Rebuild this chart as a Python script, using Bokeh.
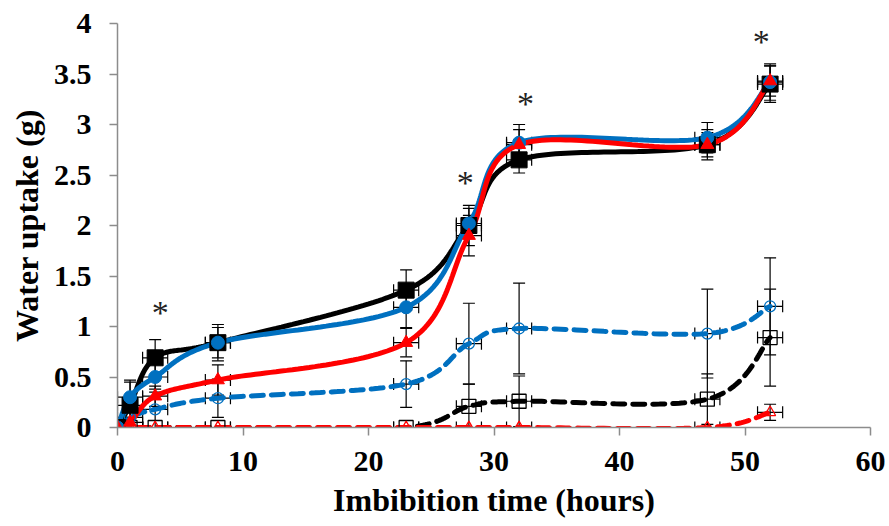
import numpy as np
from bokeh.plotting import figure
from bokeh.models import ColumnDataSource, Whisker, TeeHead, Range1d, FixedTicker
from bokeh.core.properties import value
from bokeh.embed import file_html
from bokeh.resources import INLINE

# Imbibition time (hours) and water uptake (g) for each treatment
hours = [0, 1, 3, 8, 23, 28, 32, 47, 52]
hours_err = [1, 1, 1, 1, 1, 1, 1, 1, 1]

black_solid = [0.0, 0.22, 0.69, 0.84, 1.36, 2.00, 2.65, 2.80, 3.40]
black_solid_err = [0.02, 0.25, 0.18, 0.18, 0.20, 0.20, 0.13, 0.15, 0.18]
blue_solid = [0.0, 0.30, 0.50, 0.84, 1.19, 2.02, 2.82, 2.87, 3.42]
blue_solid_err = [0.02, 0.15, 0.15, 0.15, 0.20, 0.15, 0.18, 0.15, 0.18]
red_solid = [0.0, 0.05, 0.31, 0.47, 0.84, 1.90, 2.80, 2.80, 3.43]
red_solid_err = [0.02, 0.05, 0.10, 0.15, 0.14, 0.20, 0.15, 0.12, 0.15]

blue_dashed = [0.0, 0.10, 0.18, 0.29, 0.43, 0.83, 0.98, 0.93, 1.20]
blue_dashed_err = [0.02, 0.20, 0.20, 0.19, 0.23, 0.40, 0.45, 0.44, 0.48]
black_dashed = [0.0, 0.0, 0.0, 0.0, 0.0, 0.21, 0.26, 0.28, 0.89]
black_dashed_err = [0.0, 0.0, 0.0, 0.0, 0.0, 0.22, 0.25, 0.25, 0.48]
red_dashed = [0.0, 0.0, 0.0, 0.0, 0.0, 0.0, 0.0, 0.0, 0.15]
red_dashed_err = [0.0, 0.0, 0.0, 0.0, 0.0, 0.0, 0.0, 0.0, 0.08]

# significance marks (x, y)
star_x = [3.4, 27.7, 32.5, 51.3]
star_y = [1.14, 2.43, 3.21, 3.82]

x_ticks = [0, 10, 20, 30, 40, 50, 60]
y_ticks = [0, 0.5, 1, 1.5, 2, 2.5, 3, 3.5, 4]
y_tick_labels = ["0", "0.5", "1", "1.5", "2", "2.5", "3", "3.5", "4"]

BLUE = "#0070C0"
RED = "#FF0000"
BLACK = "#000000"
AXIS = "#8C8C8C"
FONT = "Liberation Serif"


def smooth(xs, ys, n=40):
    """Cubic Bezier curve through the points (Catmull-Rom control points)."""
    P = np.column_stack([xs, ys]).astype(float)
    out = [P[0]]
    t = np.linspace(0, 1, n)[1:, None]
    for i in range(len(P) - 1):
        p0 = P[i - 1] if i > 0 else P[i]
        p1 = P[i]
        p2 = P[i + 1]
        p3 = P[i + 2] if i + 2 < len(P) else P[i + 1]
        c1 = p1 + (p2 - p0) / 6.0
        c2 = p2 - (p3 - p1) / 6.0
        seg = ((1 - t) ** 3) * p1 + 3 * ((1 - t) ** 2) * t * c1 + 3 * (1 - t) * t * t * c2 + (t ** 3) * p2
        out.extend(seg)
    out = np.array(out)
    return out[:, 0], out[:, 1]


p = figure(width=889, height=526, output_backend="svg", toolbar_location=None,
           x_range=Range1d(0, 60), y_range=Range1d(0, 4),
           min_border_left=117, min_border_right=19, min_border_top=23, min_border_bottom=99)
p.outline_line_color = None
p.xgrid.visible = False
p.ygrid.visible = False
p.background_fill_color = "white"

series = [
    # values, errors, color, dashed, marker, filled
    (black_dashed, black_dashed_err, BLACK, True, "square", False),
    (blue_dashed, blue_dashed_err, BLUE, True, "circle", False),
    (red_dashed, red_dashed_err, RED, True, "triangle", False),
    (black_solid, black_solid_err, BLACK, False, "square", True),
    (blue_solid, blue_solid_err, BLUE, False, "circle", True),
    (red_solid, red_solid_err, RED, False, "triangle", True),
]

for vals, errs, color, dashed, marker, filled in series:
    sx, sy = smooth(hours, vals)
    if dashed:
        p.line(sx, sy, line_color=color, line_width=5, line_dash="12 8", line_cap="round")
    else:
        p.line(sx, sy, line_color=color, line_width=5, line_cap="round")

for vals, errs, color, dashed, marker, filled in series:
    src = ColumnDataSource(dict(
        x=hours, y=vals,
        ylo=[v - e for v, e in zip(vals, errs)], yhi=[v + e for v, e in zip(vals, errs)],
        xlo=[h - e for h, e in zip(hours, hours_err)], xhi=[h + e for h, e in zip(hours, hours_err)],
    ))
    size = 16 if marker == "square" else 13
    if filled:
        p.scatter("x", "y", source=src, marker=marker, size=size,
                  fill_color=color, line_color=color, line_width=1)
    else:
        p.scatter("x", "y", source=src, marker=marker, size=size - 2,
                  fill_color=None, line_color=color, line_width=1.3)
    p.add_layout(Whisker(source=src, base="x", lower="ylo", upper="yhi", dimension="height",
                         line_color="black", line_width=1.2,
                         upper_head=TeeHead(size=12, line_color="black", line_width=1.2),
                         lower_head=TeeHead(size=12, line_color="black", line_width=1.2)))
    p.add_layout(Whisker(source=src, base="y", lower="xlo", upper="xhi", dimension="width",
                         line_color="black", line_width=1.2,
                         upper_head=TeeHead(size=12, line_color="black", line_width=1.2),
                         lower_head=TeeHead(size=12, line_color="black", line_width=1.2)))

p.text(star_x, star_y, text=["*"] * len(star_x), text_font=value(FONT),
       text_font_size="34px", text_color="#222222", text_align="center", text_baseline="middle")

for ax in (p.xaxis[0], p.yaxis[0]):
    ax.axis_line_color = AXIS
    ax.axis_line_width = 1.5
    ax.major_tick_line_color = AXIS
    ax.major_tick_line_width = 1.5
    ax.major_tick_out = 8
    ax.major_tick_in = 0
    ax.minor_tick_line_color = None
    ax.major_label_text_font = FONT
    ax.major_label_text_font_style = "bold"
    ax.major_label_text_font_size = "30px"
    ax.major_label_text_color = "black"
    ax.axis_label_text_font = FONT
    ax.axis_label_text_font_style = "bold"
    ax.axis_label_text_font_size = "32px"
    ax.axis_label_text_color = "black"

p.xaxis.ticker = FixedTicker(ticks=x_ticks)
p.yaxis.ticker = FixedTicker(ticks=y_ticks)
p.yaxis.major_label_overrides = {t: s for t, s in zip(y_ticks, y_tick_labels)}
p.xaxis.major_label_standoff = 16
p.yaxis.major_label_standoff = 18
p.xaxis.axis_label = "Imbibition time (hours)"
p.yaxis.axis_label = "Water uptake (g)"
p.xaxis.axis_label_standoff = 8
p.yaxis.axis_label_standoff = 6

open("out.html", "w").write(file_html(p, INLINE))
